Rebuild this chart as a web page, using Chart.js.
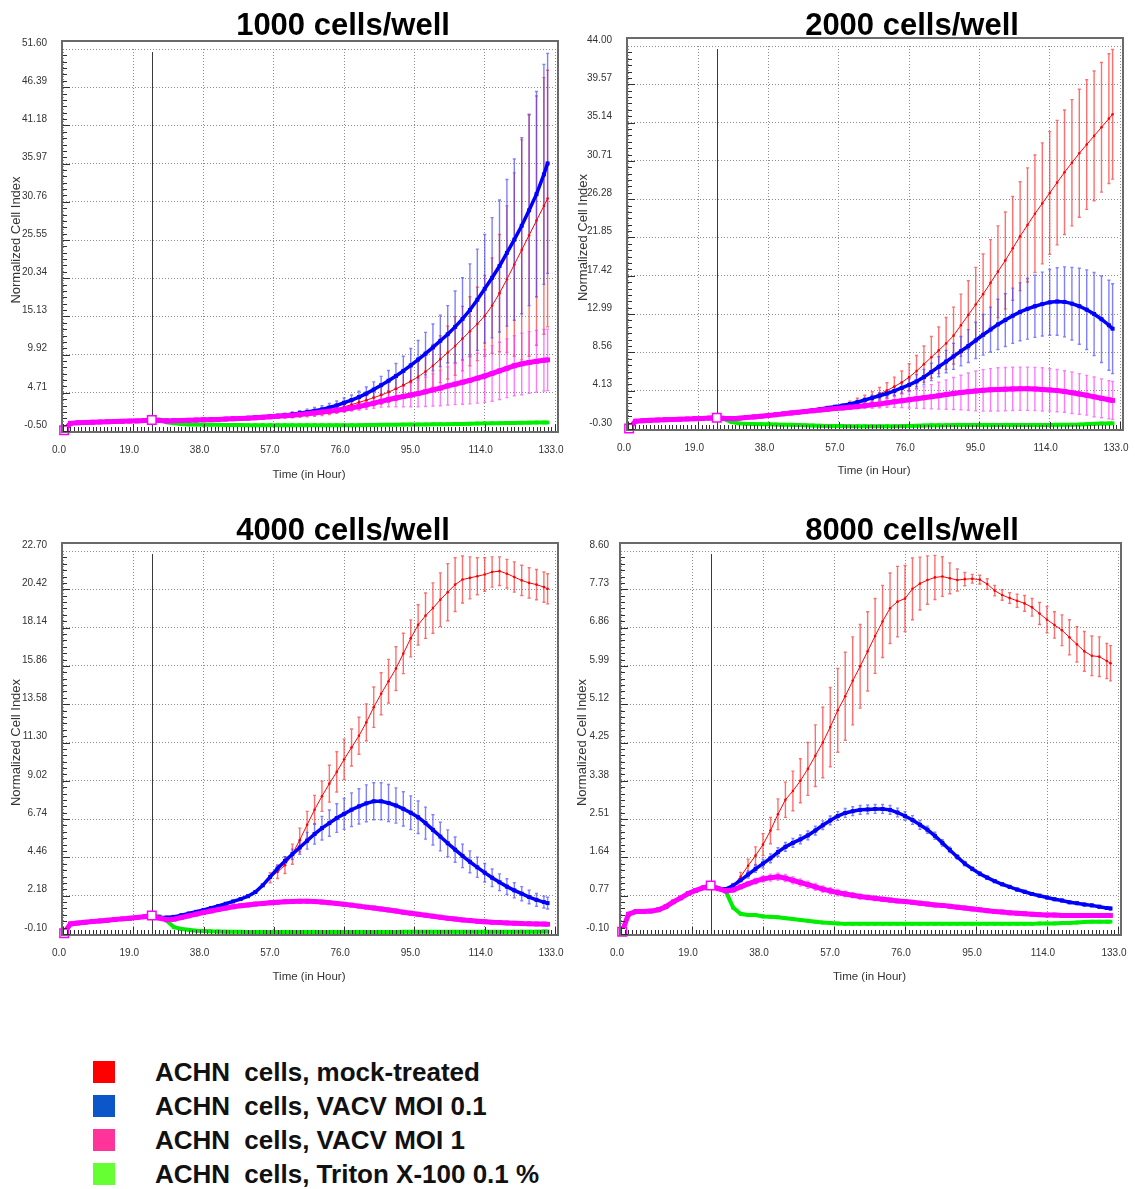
<!DOCTYPE html>
<html lang="en">
<head>
<meta charset="UTF-8">
<title>ACHN cell index</title>
<script src="https://cdn.jsdelivr.net/npm/chart.js@4.4.1/dist/chart.umd.min.js"></script>
<style>
  body { margin: 0; background: #fff; }
  #page { position: relative; width: 1135px; height: 1189px; font-family: "Liberation Sans", Arial, sans-serif; }
  canvas.panel { position: absolute; }
  .title { position: absolute; width: 400px; text-align: center; font-weight: bold; font-size: 31px; line-height: 31px; color: #000; }
  .legend { position: absolute; left: 93px; top: 1055px; }
  .legend .row { height: 34px; display: flex; align-items: center; font-weight: bold; font-size: 26px; color: #111; white-space: pre; }
  .legend .box { width: 22px; height: 22px; margin-right: 40px; }
  .legend .first { margin-right: 7px; }
</style>
</head>
<body>
<div id="page">
  <canvas id="c1000" class="panel" width="567" height="490" style="left:0;top:0"></canvas>
  <canvas id="c2000" class="panel" width="568" height="490" style="left:567px;top:0"></canvas>
  <canvas id="c4000" class="panel" width="567" height="490" style="left:0;top:500px"></canvas>
  <canvas id="c8000" class="panel" width="568" height="490" style="left:567px;top:500px"></canvas>
  <div class="title" style="left:143px;top:9px">1000 cells/well</div>
  <div class="title" style="left:712px;top:9px">2000 cells/well</div>
  <div class="title" style="left:143px;top:514px">4000 cells/well</div>
  <div class="title" style="left:712px;top:514px">8000 cells/well</div>
  <div class="legend" id="legend"></div>
</div>
<script>
// time points (hours) shared by every well density
const hours = [0.3, 2, 4, 6, 8, 10, 12, 14, 16, 18, 20, 22, 24,
  26, 28, 30, 32, 34, 36, 38, 40, 42, 44,
  46, 48, 50, 52, 54, 56, 58, 60, 62, 64,
  66, 68, 70, 72, 74, 76, 78, 80, 82, 84,
  86, 88, 90, 92, 94, 96, 98, 100, 102, 104,
  106, 108, 110, 112, 114, 116, 118, 120, 122, 124,
  126, 128, 130, 131];
const xTicks = [0, 19, 38, 57, 76, 95, 114, 133];
const normHour = 24;
const noErr = [0, 0, 0, 0, 0, 0, 0, 0, 0, 0, 0, 0, 0];

// ---- 1000 cells/well ----
const yTicks1000 = [-0.50, 4.71, 9.92, 15.13, 20.34, 25.55, 30.76, 35.97, 41.18, 46.39, 51.60];
const start1000 = [-0.4, 0.55, 0.62, 0.66, 0.7, 0.73, 0.76, 0.79, 0.82, 0.85, 0.88, 0.93, 1.0];
const mock1000 = start1000.concat([
  0.9, 0.86, 0.87, 0.89, 0.91, 0.94, 0.97, 1.0, 1.03, 1.06,
  1.1, 1.14, 1.18, 1.23, 1.28, 1.34, 1.4, 1.48, 1.56, 1.66,
  1.77, 1.9, 2.05, 2.25, 2.5, 2.8, 3.1, 3.4, 3.7, 4.05,
  4.4, 4.8, 5.25, 5.75, 6.3, 6.9, 7.6, 8.4, 9.3, 10.2,
  11.1, 12.1, 13.1, 14.1, 15.2, 16.6, 18.3, 20.2, 22.2, 24.2,
  26.2, 28.2, 30.2, 31.2]);
const mockErr1000 = noErr.concat([
  0, 0, 0, 0, 0, 0, 0, 0, 0, 0,
  0, 0, 0, 0, 0, 0, 0, 0.2, 0.25, 0.3,
  0.35, 0.4, 0.45, 0.5, 0.6, 0.7, 0.8, 0.9, 1.0, 1.1,
  1.25, 1.4, 1.6, 1.8, 2.0, 2.3, 2.6, 2.9, 3.2, 3.6,
  4.0, 4.4, 4.7, 5.0, 5.5, 6.5, 8.0, 10.0, 12.5, 15.0,
  16.5, 17.0, 17.5, 17.5]);
const moi01_1000 = start1000.concat([
  0.95, 0.92, 0.93, 0.96, 0.99, 1.02, 1.05, 1.08, 1.12, 1.16,
  1.2, 1.25, 1.3, 1.36, 1.43, 1.5, 1.58, 1.68, 1.8, 1.93,
  2.08, 2.25, 2.45, 2.7, 3.0, 3.35, 3.72, 4.12, 4.6, 5.15,
  5.75, 6.35, 7.0, 7.7, 8.45, 9.25, 10.05, 10.9, 11.8, 12.7,
  13.7, 14.8, 16.0, 17.4, 18.9, 20.4, 22.0, 23.8, 25.6, 27.5,
  29.6, 31.8, 34.5, 36.0]);
const moi01Err1000 = noErr.concat([
  0, 0, 0, 0, 0, 0, 0, 0, 0, 0,
  0, 0, 0, 0, 0, 0.15, 0.2, 0.25, 0.3, 0.35,
  0.4, 0.45, 0.5, 0.55, 0.6, 0.65, 0.7, 0.8, 0.9, 1.05,
  1.2, 1.4, 1.7, 2.0, 2.3, 2.6, 2.9, 3.2, 3.5, 3.9,
  4.9, 5.6, 6.3, 6.9, 7.4, 8.2, 9.0, 10.0, 11.0, 12.0,
  13.0, 14.0, 15.0, 15.0]);
const moi1_1000 = start1000.concat([
  0.92, 0.88, 0.9, 0.93, 0.96, 0.99, 1.02, 1.05, 1.08, 1.12,
  1.16, 1.2, 1.25, 1.3, 1.36, 1.43, 1.5, 1.58, 1.66, 1.75,
  1.85, 1.96, 2.08, 2.2, 2.33, 2.47, 2.65, 2.85, 3.07, 3.3,
  3.55, 3.8, 4.0, 4.2, 4.4, 4.6, 4.85, 5.1, 5.35, 5.65,
  5.9, 6.15, 6.4, 6.7, 7.0, 7.35, 7.7, 8.05, 8.4, 8.65,
  8.85, 9.0, 9.15, 9.2]);
const moi1Err1000 = noErr.concat([
  0, 0, 0, 0, 0, 0, 0, 0, 0, 0,
  0, 0, 0, 0, 0, 0, 0, 0, 0, 0,
  0, 0, 0.2, 0.25, 0.3, 0.35, 0.4, 0.5, 0.6, 0.7,
  0.8, 1.0, 1.2, 1.4, 1.6, 1.8, 2.0, 2.2, 2.4, 2.6,
  2.8, 3.0, 3.2, 3.4, 3.6, 3.8, 3.9, 4.0, 4.1, 4.2,
  4.2, 4.2, 4.2, 4.2]);
const triton1000 = start1000.concat([
  1.05, 0.7, 0.55, 0.45, 0.4, 0.38, 0.36, 0.35, 0.34, 0.33,
  0.32, 0.31, 0.3, 0.3, 0.3, 0.3, 0.3, 0.3, 0.3, 0.3,
  0.3, 0.3, 0.3, 0.3, 0.3, 0.3, 0.3, 0.3, 0.32, 0.33,
  0.34, 0.35, 0.36, 0.37, 0.38, 0.39, 0.4, 0.41, 0.42, 0.43,
  0.44, 0.46, 0.5, 0.52, 0.54, 0.55, 0.56, 0.58, 0.6, 0.62,
  0.64, 0.65, 0.66, 0.66]);

// ---- 2000 cells/well ----
const yTicks2000 = [-0.30, 4.13, 8.56, 12.99, 17.42, 21.85, 26.28, 30.71, 35.14, 39.57, 44.00];
const start2000 = [-0.25, 0.6, 0.66, 0.7, 0.74, 0.77, 0.8, 0.83, 0.86, 0.89, 0.92, 0.96, 1.0];
const mock2000 = start2000.concat([
  0.93, 0.9, 0.95, 1.02, 1.1, 1.18, 1.27, 1.36, 1.46, 1.56,
  1.66, 1.77, 1.89, 2.01, 2.14, 2.28, 2.44, 2.62, 2.85, 3.1,
  3.4, 3.75, 4.15, 4.6, 5.1, 5.7, 6.4, 7.2, 8.0, 8.8,
  9.6, 10.5, 11.7, 12.9, 14.1, 15.3, 16.6, 17.9, 19.2, 20.6,
  22.0, 23.3, 24.6, 25.8, 27.0, 28.2, 29.4, 30.5, 31.6, 32.6,
  33.6, 34.6, 35.6, 36.1]);
const mockErr2000 = noErr.concat([
  0, 0, 0, 0, 0, 0, 0, 0, 0, 0,
  0, 0, 0, 0, 0, 0, 0, 0.3, 0.4, 0.5,
  0.6, 0.75, 0.9, 1.1, 1.3, 1.55, 1.8, 2.1, 2.4, 2.7,
  3.0, 3.3, 3.6, 3.95, 4.3, 4.65, 5.0, 5.3, 5.6, 6.0,
  6.3, 6.6, 6.8, 7.0, 7.1, 7.2, 7.2, 7.3, 7.4, 7.5,
  7.5, 7.5, 7.5, 7.5]);
const moi01_2000 = start2000.concat([
  0.95, 0.93, 0.98, 1.05, 1.12, 1.2, 1.28, 1.37, 1.47, 1.57,
  1.67, 1.78, 1.9, 2.02, 2.15, 2.28, 2.42, 2.6, 2.8, 3.05,
  3.3, 3.55, 3.8, 4.1, 4.45, 4.8, 5.2, 5.7, 6.3, 6.9,
  7.5, 8.1, 8.7, 9.3, 9.95, 10.6, 11.2, 11.8, 12.3, 12.8,
  13.25, 13.6, 13.9, 14.15, 14.35, 14.45, 14.4, 14.2, 13.9, 13.5,
  13.0, 12.4, 11.7, 11.3]);
const moi01Err2000 = noErr.concat([
  0, 0, 0, 0, 0, 0, 0, 0, 0, 0,
  0, 0, 0, 0, 0, 0, 0, 0, 0.2, 0.25,
  0.3, 0.35, 0.4, 0.5, 0.6, 0.7, 0.8, 0.9, 1.0, 1.15,
  1.3, 1.5, 1.7, 1.9, 2.1, 2.35, 2.6, 2.9, 3.05, 3.2,
  3.35, 3.5, 3.6, 3.7, 3.8, 3.9, 4.05, 4.2, 4.4, 4.6,
  4.8, 5.0, 5.2, 5.2]);
const moi1_2000 = start2000.concat([
  0.93, 0.9, 0.95, 1.02, 1.1, 1.18, 1.27, 1.36, 1.45, 1.54,
  1.63, 1.72, 1.81, 1.9, 1.98, 2.06, 2.14, 2.22, 2.3, 2.4,
  2.5, 2.6, 2.72, 2.85, 2.97, 3.08, 3.2, 3.32, 3.43, 3.55,
  3.68, 3.8, 3.92, 4.02, 4.1, 4.17, 4.23, 4.28, 4.31, 4.34,
  4.36, 4.36, 4.33, 4.28, 4.22, 4.14, 4.03, 3.9, 3.75, 3.6,
  3.42, 3.25, 3.08, 3.0]);
const moi1Err2000 = noErr.concat([
  0, 0, 0, 0, 0, 0, 0, 0, 0, 0,
  0, 0, 0, 0, 0, 0, 0, 0.2, 0.25, 0.3,
  0.4, 0.45, 0.5, 0.65, 0.8, 0.95, 1.1, 1.25, 1.4, 1.55,
  1.7, 1.85, 2.0, 2.15, 2.3, 2.4, 2.45, 2.5, 2.5, 2.5,
  2.5, 2.5, 2.5, 2.5, 2.45, 2.45, 2.4, 2.4, 2.35, 2.3,
  2.3, 2.25, 2.2, 2.2]);
const triton2000 = start2000.concat([
  0.85, 0.5, 0.35, 0.3, 0.28, 0.26, 0.24, 0.22, 0.2, 0.18,
  0.15, 0.12, 0.1, 0.08, 0.06, 0.05, 0.04, 0.03, 0.03, 0.03,
  0.03, 0.03, 0.03, 0.03, 0.04, 0.06, 0.08, 0.1, 0.12, 0.13,
  0.14, 0.15, 0.15, 0.16, 0.16, 0.16, 0.16, 0.16, 0.16, 0.16,
  0.16, 0.16, 0.16, 0.17, 0.17, 0.18, 0.18, 0.2, 0.22, 0.26,
  0.3, 0.33, 0.35, 0.36]);

// ---- 4000 cells/well ----
const yTicks4000 = [-0.10, 2.18, 4.46, 6.74, 9.02, 11.30, 13.58, 15.86, 18.14, 20.42, 22.70];
const start4000 = [-0.05, 0.5, 0.55, 0.6, 0.64, 0.68, 0.72, 0.76, 0.8, 0.84, 0.88, 0.93, 1.0];
const mock4000 = start4000.concat([
  0.9, 0.88, 0.92, 1.02, 1.12, 1.22, 1.33, 1.45, 1.57, 1.7,
  1.84, 1.98, 2.15, 2.4, 2.8, 3.25, 3.6, 4.0, 4.65, 5.5,
  6.4, 7.3, 8.1, 8.85, 9.55, 10.3, 11.0, 11.7, 12.5, 13.4,
  14.2, 14.95, 15.7, 16.6, 17.5, 18.3, 18.85, 19.3, 19.8, 20.25,
  20.7, 21.0, 21.1, 21.2, 21.3, 21.45, 21.5, 21.35, 21.15, 20.95,
  20.8, 20.7, 20.55, 20.45]);
const mockErr4000 = noErr.concat([
  0, 0, 0, 0, 0, 0, 0, 0, 0, 0,
  0, 0, 0, 0, 0, 0.3, 0.4, 0.5, 0.6, 0.7,
  0.8, 0.85, 0.9, 1.1, 1.2, 1.2, 1.1, 1.1, 1.1, 1.2,
  1.25, 1.3, 1.3, 1.2, 1.1, 1.2, 1.35, 1.5, 1.6, 1.7,
  1.6, 1.4, 1.25, 1.1, 1.0, 0.9, 0.85, 0.85, 0.9, 0.9,
  0.9, 0.9, 0.9, 0.9]);
const moi01_4000 = start4000.concat([
  0.9, 0.88, 0.92, 1.02, 1.12, 1.22, 1.33, 1.45, 1.57, 1.7,
  1.84, 1.98, 2.15, 2.4, 2.8, 3.3, 3.8, 4.25, 4.65, 5.05,
  5.45, 5.85, 6.2, 6.5, 6.8, 7.05, 7.3, 7.5, 7.68, 7.8,
  7.8, 7.7, 7.55, 7.35, 7.12, 6.85, 6.5, 6.1, 5.7, 5.3,
  4.92, 4.55, 4.2, 3.87, 3.55, 3.25, 2.98, 2.72, 2.5, 2.3,
  2.1, 1.93, 1.8, 1.74]);
const moi01Err4000 = noErr.concat([
  0, 0, 0, 0, 0, 0, 0, 0, 0, 0,
  0, 0, 0, 0, 0, 0, 0.2, 0.25, 0.3, 0.4,
  0.5, 0.6, 0.7, 0.78, 0.85, 0.92, 1.0, 1.05, 1.1, 1.1,
  1.1, 1.1, 1.05, 1.02, 1.0, 0.97, 0.95, 0.9, 0.85, 0.8,
  0.75, 0.7, 0.65, 0.6, 0.55, 0.52, 0.5, 0.47, 0.45, 0.42,
  0.4, 0.38, 0.35, 0.35]);
const moi1_4000 = start4000.concat([
  0.85, 0.75, 0.78, 0.88, 0.98, 1.08, 1.18, 1.27, 1.36, 1.44,
  1.52, 1.58, 1.63, 1.68, 1.72, 1.76, 1.79, 1.82, 1.84, 1.85,
  1.85, 1.83, 1.8, 1.76, 1.72, 1.67, 1.62, 1.56, 1.5, 1.45,
  1.39, 1.33, 1.27, 1.2, 1.14, 1.08, 1.02, 0.96, 0.9, 0.84,
  0.79, 0.74, 0.7, 0.66, 0.63, 0.6, 0.58, 0.56, 0.54, 0.52,
  0.51, 0.5, 0.49, 0.48]);
const triton4000 = start4000.concat([
  0.95, 0.7, 0.3, 0.2, 0.15, 0.1, 0.08, 0.06, 0.05, 0.04,
  0.03, 0.03, 0.02, 0.02, 0.02, 0.02, 0.02, 0.02, 0.02, 0.02,
  0.02, 0.02, 0.02, 0.02, 0.02, 0.02, 0.02, 0.02, 0.02, 0.02,
  0.02, 0.02, 0.02, 0.03, 0.03, 0.03, 0.03, 0.03, 0.03, 0.03,
  0.03, 0.03, 0.03, 0.03, 0.03, 0.03, 0.03, 0.03, 0.04, 0.04,
  0.04, 0.04, 0.05, 0.05]);

// ---- 8000 cells/well ----
const yTicks8000 = [-0.10, 0.77, 1.64, 2.51, 3.38, 4.25, 5.12, 5.99, 6.86, 7.73, 8.60];
const start8000 = [-0.05, 0.35, 0.41, 0.41, 0.42, 0.45, 0.52, 0.63, 0.72, 0.82, 0.89, 0.95, 1.0];
const mock8000 = start8000.concat([
  0.93, 0.92, 1.0, 1.2, 1.45, 1.68, 1.93, 2.25, 2.62, 2.95,
  3.15, 3.38, 3.65, 3.95, 4.25, 4.6, 4.98, 5.3, 5.65, 5.98,
  6.32, 6.67, 7.0, 7.3, 7.45, 7.52, 7.74, 7.86, 7.94, 8.0,
  8.02, 7.98, 7.94, 7.96, 7.97, 7.95, 7.85, 7.7, 7.6, 7.53,
  7.47, 7.41, 7.32, 7.18, 7.04, 6.92, 6.8, 6.64, 6.48, 6.32,
  6.22, 6.2, 6.1, 6.05]);
const mockErr8000 = noErr.concat([
  0, 0, 0.05, 0.1, 0.15, 0.2, 0.25, 0.3, 0.35, 0.4,
  0.45, 0.5, 0.6, 0.7, 0.8, 0.9, 0.95, 1.0, 1.0, 0.95,
  0.9, 0.85, 0.82, 0.8, 0.8, 0.75, 0.7, 0.6, 0.55, 0.5,
  0.45, 0.35, 0.25, 0.15, 0.1, 0.1, 0.12, 0.12, 0.12, 0.12,
  0.15, 0.18, 0.2, 0.25, 0.3, 0.3, 0.35, 0.4, 0.4, 0.45,
  0.45, 0.45, 0.4, 0.4]);
const moi01_8000 = start8000.concat([
  0.93, 0.92, 1.0, 1.12, 1.25, 1.38, 1.5, 1.62, 1.76, 1.88,
  1.97, 2.05, 2.14, 2.25, 2.37, 2.48, 2.58, 2.65, 2.69, 2.72,
  2.73, 2.74, 2.74, 2.72, 2.66, 2.58, 2.49, 2.38, 2.27, 2.13,
  1.97, 1.81, 1.65, 1.5, 1.38, 1.27, 1.18, 1.1, 1.03, 0.97,
  0.91, 0.86, 0.81, 0.77, 0.73, 0.69, 0.66, 0.62, 0.6, 0.57,
  0.55, 0.52, 0.49, 0.48]);
const moi01Err8000 = noErr.concat([
  0, 0, 0, 0, 0.08, 0.08, 0.1, 0.1, 0.1, 0.1,
  0.1, 0.1, 0.1, 0.1, 0.1, 0.1, 0.1, 0.1, 0.1, 0.1,
  0.1, 0.1, 0.1, 0.1, 0.1, 0.1, 0.1, 0.1, 0.08, 0.08,
  0.07, 0.06, 0.05, 0.05, 0.04, 0.04, 0.04, 0.03, 0.03, 0.03,
  0.03, 0.03, 0.03, 0.03, 0.03, 0.03, 0.03, 0.03, 0.03, 0.03,
  0.03, 0.03, 0.03, 0.03]);
const moi1_8000 = start8000.concat([
  0.93, 0.88, 0.9, 0.97, 1.04, 1.1, 1.15, 1.18, 1.2, 1.17,
  1.12, 1.07, 1.02, 0.97, 0.92, 0.88, 0.84, 0.81, 0.78, 0.75,
  0.73, 0.71, 0.69, 0.67, 0.65, 0.64, 0.62, 0.6, 0.58, 0.56,
  0.55, 0.53, 0.51, 0.49, 0.47, 0.45, 0.43, 0.41, 0.4, 0.38,
  0.37, 0.36, 0.35, 0.34, 0.33, 0.33, 0.32, 0.32, 0.32, 0.32,
  0.32, 0.32, 0.32, 0.32]);
const moi1Err8000 = noErr.concat([
  0, 0, 0, 0, 0, 0.06, 0.07, 0.08, 0.08, 0.08,
  0.08, 0.08, 0.08, 0.08, 0.07, 0.07, 0.07, 0.06, 0.06, 0.06,
  0.05, 0.05, 0.04, 0.04, 0, 0, 0, 0, 0, 0,
  0, 0, 0, 0, 0, 0, 0, 0, 0, 0,
  0, 0, 0, 0, 0, 0, 0, 0, 0, 0,
  0, 0, 0, 0]);
const triton8000 = start8000.concat([
  0.95, 0.88, 0.5, 0.36, 0.33, 0.33, 0.3, 0.29, 0.28, 0.26,
  0.24, 0.22, 0.2, 0.18, 0.16, 0.15, 0.14, 0.13, 0.13, 0.13,
  0.13, 0.13, 0.13, 0.13, 0.13, 0.13, 0.13, 0.13, 0.13, 0.13,
  0.13, 0.13, 0.13, 0.13, 0.13, 0.13, 0.13, 0.13, 0.13, 0.13,
  0.13, 0.13, 0.13, 0.14, 0.14, 0.14, 0.15, 0.15, 0.16, 0.17,
  0.18, 0.18, 0.18, 0.18]);

// how each treatment is drawn (same order as the legend)
const looks = [
  { label: 'ACHN cells, mock-treated', color: '#ff0000', err: 'rgba(255,50,50,0.7)', width: 1, radius: 1.3, style: 'circle', order: 2, key: '#ff0000' },
  { label: 'ACHN cells, VACV MOI 0.1', color: '#0000ff', err: 'rgba(60,60,255,0.65)', width: 3.5, radius: 2.8, style: 'rect', order: 1, key: '#0b57c9' },
  { label: 'ACHN cells, VACV MOI 1', color: '#ff00ff', err: 'rgba(255,50,255,0.65)', width: 5, radius: 3.4, style: 'rect', order: 0, key: '#ff3399' },
  { label: 'ACHN cells, Triton X-100 0.1 %', color: '#00ee00', err: null, width: 4, radius: 2.6, style: 'rect', order: 3, key: '#66ff33' }
];

// error bars, the normalisation marker, plot frame and minor ticks
const decor = {
  id: 'decor',
  beforeDatasetsDraw(chart) {
    const { ctx, chartArea: a, scales: { x, y } } = chart;
    ctx.save();
    const xn = Math.round(x.getPixelForValue(normHour)) + 0.5;
    ctx.strokeStyle = '#3a3a3a';
    ctx.lineWidth = 1;
    ctx.beginPath();
    ctx.moveTo(xn, a.top + 3);
    ctx.lineTo(xn, a.bottom);
    ctx.stroke();
    chart.data.datasets.forEach((ds, di) => {
      if (!ds.errors) return;
      const meta = chart.getDatasetMeta(di);
      ctx.strokeStyle = ds.errorColor;
      ctx.lineWidth = 1.4;
      ctx.beginPath();
      meta.data.forEach((pt, i) => {
        const e = ds.errors[i];
        if (!e) return;
        const v = ds.data[i].y;
        const y1 = y.getPixelForValue(v + e);
        const y2 = y.getPixelForValue(v - e);
        ctx.moveTo(pt.x, y1); ctx.lineTo(pt.x, y2);
        ctx.moveTo(pt.x - 1.5, y1); ctx.lineTo(pt.x + 1.5, y1);
        ctx.moveTo(pt.x - 1.5, y2); ctx.lineTo(pt.x + 1.5, y2);
      });
      ctx.stroke();
    });
    ctx.restore();
  },
  afterDraw(chart) {
    const { ctx, chartArea: a, scales: { x, y } } = chart;
    const yt = chart.options.plugins.decor.yTicks;
    ctx.save();
    ctx.strokeStyle = '#6a6a6a';
    ctx.lineWidth = 2;
    ctx.strokeRect(a.left - 1, a.top - 8, a.right - a.left + 4, a.bottom - a.top + 9);
    ctx.strokeStyle = '#2e2e2e';
    ctx.lineWidth = 1;
    ctx.beginPath();
    for (let h = xTicks[0]; h <= xTicks[xTicks.length - 1]; h++) {
      const px = Math.round(x.getPixelForValue(h)) + 0.5;
      const len = xTicks.includes(h) ? 7 : 4;
      ctx.moveTo(px, a.bottom); ctx.lineTo(px, a.bottom - len);
    }
    for (let k = 0; k < yt.length - 1; k++) {
      for (let j = 0; j < 6; j++) {
        const py = Math.round(y.getPixelForValue(yt[k] + (yt[k + 1] - yt[k]) * j / 6)) + 0.5;
        ctx.moveTo(a.left, py); ctx.lineTo(a.left + (j === 0 ? 7 : 4), py);
      }
    }
    ctx.stroke();
    ctx.restore();
  }
};

function drawPanel(id, series, errors, yTicks, box) {
  const datasets = series.map((vals, s) => {
    const look = looks[s];
    const marked = i => s === 2 && (i === 0 || hours[i] === normHour);
    return {
      label: look.label,
      data: vals.map((v, i) => ({ x: hours[i], y: v })),
      errors: errors[s],
      errorColor: look.err,
      borderColor: look.color,
      backgroundColor: look.color,
      borderWidth: look.width,
      pointStyle: look.style,
      pointRadius: c => marked(c.dataIndex) ? 6 : look.radius,
      pointBackgroundColor: c => marked(c.dataIndex) ? '#ffffff' : look.color,
      pointBorderColor: look.color,
      pointBorderWidth: c => marked(c.dataIndex) ? 1.5 : 0,
      order: look.order,
      clip: false,
      tension: 0
    };
  });

  const gridStyle = { color: '#8c8c8c', lineWidth: 1, drawTicks: false };
  new Chart(document.getElementById(id), {
    type: 'line',
    data: { datasets },
    plugins: [decor],
    options: {
      responsive: false,
      animation: false,
      events: [],
      layout: { padding: { left: 0, top: box.top, right: box.w - box.right, bottom: 0 } },
      plugins: {
        legend: { display: false },
        tooltip: { enabled: false },
        decor: { yTicks }
      },
      scales: {
        x: {
          type: 'linear',
          min: xTicks[0],
          max: xTicks[xTicks.length - 1],
          afterBuildTicks: sc => { sc.ticks = xTicks.map(v => ({ value: v })); },
          afterFit: sc => { sc.height = box.h - box.bottom; sc.paddingLeft = 0; sc.paddingRight = 0; },
          grid: gridStyle,
          border: { display: false, dash: [1, 2] },
          ticks: { padding: 13, labelOffset: -4, autoSkip: false, maxRotation: 0, color: '#333', font: { size: 10 }, callback: v => v.toFixed(1) },
          title: { display: true, text: 'Time (in Hour)', color: '#333', font: { size: 11.5 }, padding: { top: 0, bottom: box.h - box.xTitle - 7 } }
        },
        y: {
          type: 'linear',
          min: yTicks[0],
          max: yTicks[yTicks.length - 1],
          afterBuildTicks: sc => { sc.ticks = yTicks.map(v => ({ value: v })); },
          afterFit: sc => { sc.width = box.left; sc.paddingTop = 0; sc.paddingBottom = 0; },
          grid: gridStyle,
          border: { display: false, dash: [1, 2] },
          ticks: { padding: box.tickPad, labelOffset: -6, autoSkip: false, color: '#333', font: { size: 10 }, callback: v => v.toFixed(2) },
          title: { display: true, text: 'Normalized Cell Index', color: '#333', font: { size: 13 }, padding: { top: box.yTitle - 8, bottom: 0 } }
        }
      }
    }
  });
}

Chart.defaults.font.family = '"Liberation Sans", Arial, sans-serif';

drawPanel('c1000', [mock1000, moi01_1000, moi1_1000, triton1000],
  [mockErr1000, moi01Err1000, moi1Err1000, null], yTicks1000,
  { w: 567, h: 490, left: 63, right: 555, top: 49, bottom: 431, tickPad: 16, xTitle: 475, yTitle: 17 });
drawPanel('c2000', [mock2000, moi01_2000, moi1_2000, triton2000],
  [mockErr2000, moi01Err2000, moi1Err2000, null], yTicks2000,
  { w: 568, h: 490, left: 61, right: 553, top: 46, bottom: 429, tickPad: 16, xTitle: 471, yTitle: 17 });
drawPanel('c4000', [mock4000, moi01_4000, moi1_4000, triton4000],
  [mockErr4000, moi01Err4000, null, null], yTicks4000,
  { w: 567, h: 490, left: 63, right: 555, top: 51, bottom: 434, tickPad: 16, xTitle: 477, yTitle: 17 });
drawPanel('c8000', [mock8000, moi01_8000, moi1_8000, triton8000],
  [mockErr8000, moi01Err8000, moi1Err8000, null], yTicks8000,
  { w: 568, h: 490, left: 54, right: 551, top: 51, bottom: 434, tickPad: 12, xTitle: 477, yTitle: 16 });

// shared legend under the four panels
const legend = document.getElementById('legend');
looks.forEach(l => {
  const row = document.createElement('div');
  row.className = 'row';
  const box = document.createElement('span');
  box.className = 'box';
  box.style.background = l.key;
  row.appendChild(box);
  const words = l.label.split(' ');
  const first = document.createElement('span');
  first.className = 'first';
  first.textContent = words[0];
  row.appendChild(first);
  row.appendChild(document.createTextNode(' ' + words.slice(1).join(' ')));
  legend.appendChild(row);
});
</script>
</body>
</html>
